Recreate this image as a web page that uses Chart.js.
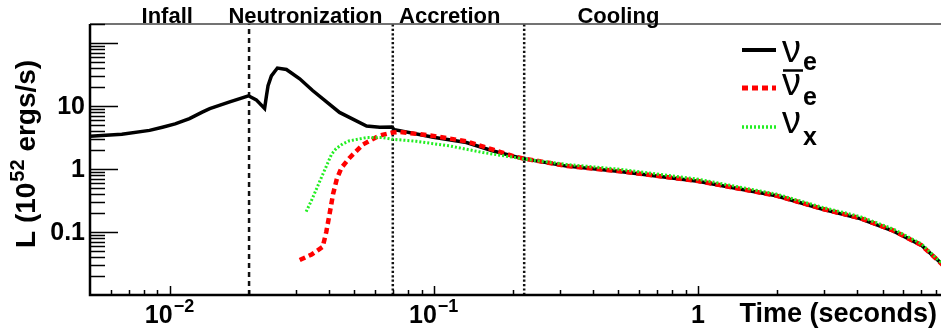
<!DOCTYPE html>
<html>
<head>
<meta charset="utf-8">
<script src="https://cdn.jsdelivr.net/npm/chart.js@4.4.0/dist/chart.umd.min.js"></script>
<style>
  html, body { margin: 0; padding: 0; background: #fff; overflow: hidden; }
  #wrap { width: 941px; height: 331px; }
</style>
</head>
<body>
<div id="wrap"><canvas id="lum" width="941" height="331"></canvas></div>
<script>
// neutrino luminosity vs time (10^52 erg/s)
const timeNuE = [0.005, 0.0066, 0.0084, 0.0094, 0.0105, 0.0119, 0.0133, 0.0142, 0.0169, 0.0199,
  0.0213, 0.0229, 0.0233, 0.0236, 0.0243, 0.0256, 0.0277, 0.0311, 0.0348, 0.044, 0.0557, 0.0625,
  0.0692, 0.0711, 0.0997, 0.133, 0.168, 0.218, 0.318, 0.507, 1.0, 1.98, 2.97, 4.11, 5.5, 7.0, 8.25, 9.5];
const lumNuE = [3.3, 3.55, 4.1, 4.6, 5.2, 6.3, 8.0, 9.1, 11.6, 14.5,
  12.5, 9.1, 15, 21, 30, 40, 38, 27, 17.6, 7.9, 4.8, 4.6,
  4.65, 4.2, 3.2, 2.63, 1.93, 1.46, 1.11, 0.91, 0.64, 0.375, 0.23, 0.163, 0.103, 0.062, 0.033, 0.018];

const timeAntiNuE = [0.0311, 0.0345, 0.038, 0.0392, 0.0404, 0.0416, 0.043, 0.0448, 0.048, 0.054,
  0.0624, 0.07, 0.0745, 0.0997, 0.133, 0.168, 0.2, 0.218, 0.318, 0.507, 1.0, 1.98, 2.97, 4.11,
  5.5, 7.0, 8.25, 9.5];
const lumAntiNuE = [0.036, 0.044, 0.058, 0.1, 0.2, 0.4, 0.7, 1.05, 1.5, 2.45,
  3.4, 3.8, 3.88, 3.35, 2.75, 2.02, 1.6, 1.47, 1.12, 0.92, 0.645, 0.378, 0.232, 0.166,
  0.105, 0.062, 0.033, 0.018];

const timeNuX = [0.0329, 0.0345, 0.0359, 0.0375, 0.0392, 0.041, 0.0427, 0.0452, 0.048, 0.0557,
  0.0643, 0.07, 0.086, 0.115, 0.154, 0.218, 0.318, 0.507, 1.0, 1.98, 2.97, 4.11, 5.5, 7.0, 8.25, 9.5];
const lumNuX = [0.21, 0.32, 0.47, 0.72, 1.1, 1.7, 2.1, 2.5, 2.8, 3.15,
  3.15, 2.96, 2.75, 2.32, 1.82, 1.45, 1.18, 0.99, 0.69, 0.4, 0.245, 0.176, 0.111, 0.065, 0.034, 0.019];

// phase boundaries and names
const phaseBounds = [0.02, 0.07, 0.22];
const phaseNames = ['Infall', 'Neutronization', 'Accretion', 'Cooling'];
const phaseNameAt = [0.0098, 0.0327, 0.115, 0.5];

const xTickValues = [0.01, 0.1, 1];
const xTickBase = ['10', '10', '1'];
const xTickExp = ['\u22122', '\u22121', ''];
const yTickValues = [0.1, 1, 10];
const yTickLabels = ['0.1', '1', '10'];

const X_MIN = 0.005, X_MAX = 8.32, Y_MIN = 0.01, Y_MAX = 200;
const FONT = '"Liberation Sans", Arial, Helvetica, sans-serif';

function pts(xs, ys) {
  return xs.map((t, i) => ({ x: t, y: ys[i] }));
}

const phaseSets = phaseBounds.map((b, i) => ({
  data: [{ x: b, y: Y_MIN }, { x: b, y: Y_MAX }],
  borderColor: '#111',
  borderWidth: 2.5,
  borderDash: i === 0 ? [5, 4] : [2.2, 2.2],
  pointRadius: 0,
  order: 5,
}));

const frame = {
  id: 'frame',
  afterDraw(chart) {
    const { ctx, chartArea: a, scales } = chart;
    const x = scales.x, y = scales.y;
    ctx.save();

    // axes frame
    ctx.strokeStyle = '#000';
    ctx.lineWidth = 2.5;
    ctx.beginPath();
    ctx.moveTo(a.left, a.top);
    ctx.lineTo(a.left, a.bottom);
    ctx.lineTo(a.right + 2, a.bottom);
    ctx.stroke();
    ctx.strokeStyle = '#444';
    ctx.lineWidth = 1.5;
    ctx.beginPath();
    ctx.moveTo(a.left, a.top);
    ctx.lineTo(a.right + 2, a.top);
    ctx.stroke();

    // tick marks, inside the frame
    ctx.strokeStyle = '#000';
    ctx.lineWidth = 1.5;
    ctx.beginPath();
    for (let e = -2; e <= 2; e++) {
      for (let m = 1; m <= 9; m++) {
        const v = m * Math.pow(10, e);
        if (v <= Y_MIN * 1.001 || v > Y_MAX) continue;
        const py = Math.round(y.getPixelForValue(v)) + 0.5;
        ctx.moveTo(a.left, py);
        ctx.lineTo(a.left + (m === 1 ? 28 : 15), py);
      }
    }
    for (let e = -3; e <= 1; e++) {
      for (let m = 1; m <= 9; m++) {
        const v = m * Math.pow(10, e);
        if (v <= X_MIN || v > X_MAX) continue;
        const px = Math.round(x.getPixelForValue(v)) + 0.5;
        ctx.moveTo(px, a.bottom);
        ctx.lineTo(px, a.bottom - (m === 1 ? 9 : 5));
      }
    }
    ctx.stroke();

    ctx.fillStyle = '#000';

    // y tick labels
    ctx.font = 'bold 25px ' + FONT;
    ctx.textAlign = 'right';
    ctx.textBaseline = 'middle';
    yTickValues.forEach((v, i) => {
      ctx.fillText(yTickLabels[i], 85, y.getPixelForValue(v) + 1);
    });

    // x tick labels with exponents
    ctx.textAlign = 'left';
    ctx.textBaseline = 'alphabetic';
    xTickValues.forEach((v, i) => {
      ctx.font = 'bold 25px ' + FONT;
      const wb = ctx.measureText(xTickBase[i]).width;
      ctx.font = 'bold 18px ' + FONT;
      const we = xTickExp[i] ? ctx.measureText(xTickExp[i]).width + 1 : 0;
      const left = x.getPixelForValue(v) - (wb + we) / 2;
      ctx.font = 'bold 25px ' + FONT;
      ctx.fillText(xTickBase[i], left, 323);
      if (xTickExp[i]) {
        ctx.font = 'bold 18px ' + FONT;
        ctx.fillText(xTickExp[i], left + wb + 1, 312);
      }
    });

    // x title
    ctx.font = 'bold 27px ' + FONT;
    ctx.textAlign = 'right';
    ctx.fillText('Time (seconds)', 937, 322);

    // y title, rotated, with superscript
    ctx.save();
    ctx.translate(35, 248);
    ctx.rotate(-Math.PI / 2);
    ctx.textAlign = 'left';
    ctx.font = 'bold 28px ' + FONT;
    let u = 0;
    ctx.fillText('L (10', u, 0);
    u += ctx.measureText('L (10').width + 1;
    ctx.font = 'bold 20px ' + FONT;
    ctx.fillText('52', u, -11);
    u += ctx.measureText('52').width;
    ctx.font = 'bold 28px ' + FONT;
    ctx.fillText(' ergs/s)', u, 0);
    ctx.restore();

    // phase names above the frame
    ctx.font = 'bold 22px ' + FONT;
    ctx.textAlign = 'center';
    phaseNames.forEach((n, i) => {
      ctx.fillText(n, x.getPixelForValue(phaseNameAt[i]), 23);
    });

    // legend
    const rows = [
      { ds: chart.data.datasets[2], sy: 50, nuBase: 62, sub: 'e', subBase: 70, bar: false },
      { ds: chart.data.datasets[1], sy: 88, nuBase: 95, sub: 'e', subBase: 105, bar: true },
      { ds: chart.data.datasets[0], sy: 127, nuBase: 133, sub: 'x', subBase: 145, bar: false },
    ];
    rows.forEach((r) => {
      ctx.save();
      ctx.strokeStyle = r.ds.borderColor;
      ctx.lineWidth = r.ds.borderWidth + 0.5;
      ctx.setLineDash(r.ds.borderDash || []);
      ctx.beginPath();
      ctx.moveTo(742, r.sy);
      ctx.lineTo(776, r.sy);
      ctx.stroke();
      ctx.restore();
      ctx.textAlign = 'left';
      ctx.font = '38px ' + FONT;
      ctx.fillText('\u03bd', 782, r.nuBase);
      ctx.font = 'bold 25px ' + FONT;
      ctx.fillText(r.sub, 803, r.subBase);
      if (r.bar) {
        ctx.lineWidth = 2.5;
        ctx.strokeStyle = '#000';
        ctx.beginPath();
        ctx.moveTo(783, 70.5);
        ctx.lineTo(803, 70.5);
        ctx.stroke();
      }
    });

    ctx.restore();
  },
};

new Chart(document.getElementById('lum'), {
  type: 'line',
  data: {
    datasets: [
      {
        label: 'nu_x',
        data: pts(timeNuX, lumNuX),
        borderColor: '#22ee22',
        borderWidth: 3,
        borderDash: [2, 2],
        pointRadius: 0,
        order: 0,
      },
      {
        label: 'anti nu_e',
        data: pts(timeAntiNuE, lumAntiNuE),
        borderColor: '#ff0000',
        borderWidth: 4.5,
        borderDash: [6, 4],
        pointRadius: 0,
        order: 1,
      },
      {
        label: 'nu_e',
        data: pts(timeNuE, lumNuE),
        borderColor: '#000',
        borderWidth: 3.5,
        pointRadius: 0,
        order: 2,
      },
      ...phaseSets,
    ],
  },
  options: {
    responsive: false,
    devicePixelRatio: 1,
    animation: false,
    layout: { padding: { left: 90, top: 24, right: 0, bottom: 36 } },
    plugins: { legend: { display: false }, tooltip: { enabled: false } },
    scales: {
      x: {
        type: 'logarithmic',
        min: X_MIN,
        max: X_MAX,
        ticks: { display: false },
        grid: { display: false },
        border: { display: false },
        afterFit: (s) => { s.height = 0; },
      },
      y: {
        type: 'logarithmic',
        min: Y_MIN,
        max: Y_MAX,
        ticks: { display: false },
        grid: { display: false },
        border: { display: false },
        afterFit: (s) => { s.width = 0; },
      },
    },
  },
  plugins: [frame],
});
</script>
</body>
</html>
